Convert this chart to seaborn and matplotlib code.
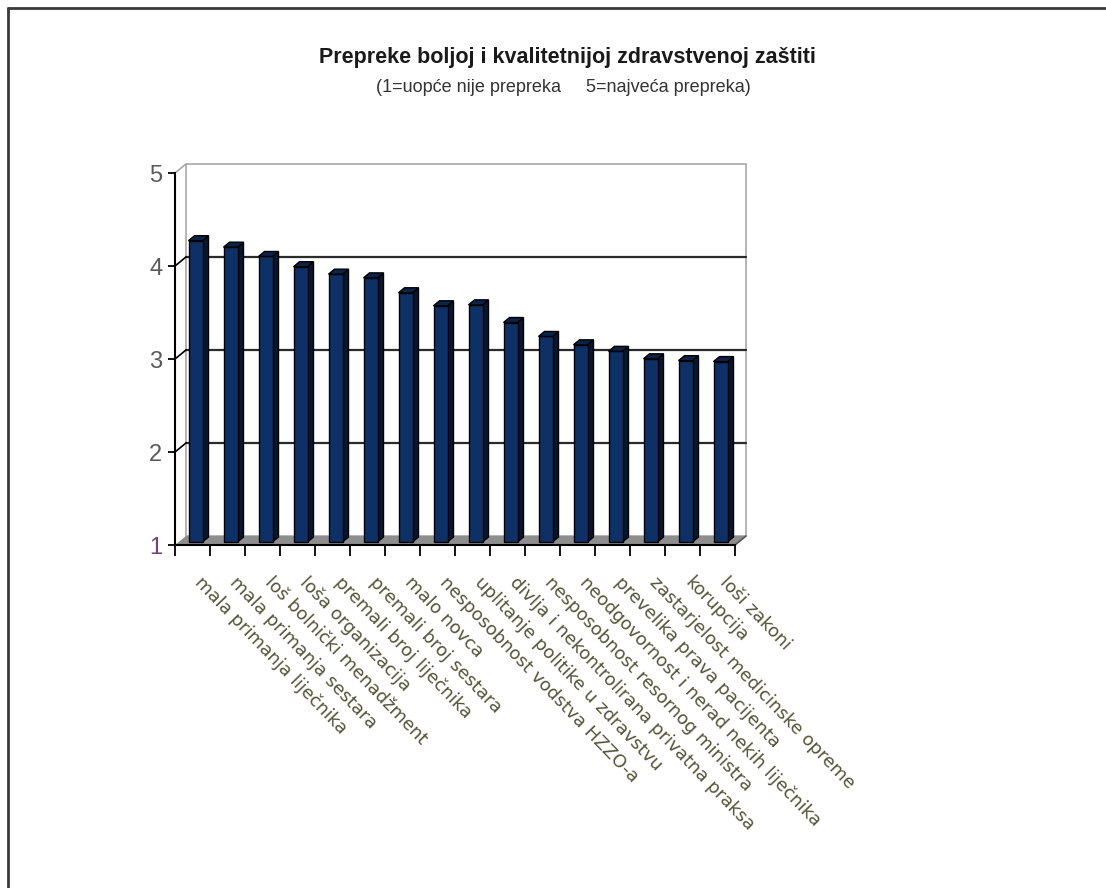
import matplotlib
matplotlib.use("Agg")
import matplotlib.pyplot as plt
import matplotlib.transforms as mtransforms
from matplotlib.patches import Polygon
from matplotlib.lines import Line2D
from matplotlib import font_manager
import seaborn as sns
import pandas as pd
import numpy as np

# ---- data -------------------------------------------------------------
categories = [
    "mala primanja liječnika",
    "mala primanja sestara",
    "loš bolnički menadžment",
    "loša organizacija",
    "premali broj liječnika",
    "premali broj sestara",
    "malo novca",
    "nesposobnost vodstva HZZO-a",
    "uplitanje politike u zdravstvu",
    "divlja i nekontrolirana privatna praksa",
    "nesposobnost resornog ministra",
    "neodgovornost i nerad nekih liječnika",
    "prevelika prava pacijenta",
    "zastarjelost medicinske opreme",
    "korupcija",
    "loši zakoni",
]
scores = [4.24, 4.17, 4.07, 3.96, 3.88, 3.84, 3.68, 3.54,
          3.55, 3.36, 3.21, 3.12, 3.05, 2.97, 2.95, 2.94]
y_ticks = [1, 2, 3, 4, 5]
y_tick_labels = ["1", "2", "3", "4", "5"]

title = "Prepreke boljoj i kvalitetnijoj zdravstvenoj zaštiti"
subtitle = "(1=uopće nije prepreka     5=najveća prepreka)"

# ---- style ------------------------------------------------------------
sns.set_theme(style="white")
plt.rcParams["font.family"] = ["Liberation Sans", "DejaVu Sans"]

installed = {f.name for f in font_manager.fontManager.ttflist}
narrow = "Liberation Sans Narrow" if "Liberation Sans Narrow" in installed else "Liberation Sans"

FRONT = "#0d3166"
SIDE = "#06172f"
TOP = "#0c2348"
FLOOR = "#8e8e8e"
WALL_EDGE = "#a8a8a8"
GRID = "#2a2a2a"

W, H = 1106, 888
fig = plt.figure(figsize=(W / 100, H / 100), dpi=100)
fig.patch.set_facecolor("white")

# front plane of the 3-D box
ax = fig.add_axes([175 / W, 1 - 545 / H, 560 / W, 372 / H])
ax.patch.set_visible(False)

df = pd.DataFrame({"prepreka": categories, "ocjena": scores})
sns.barplot(data=df, x="prepreka", y="ocjena", ax=ax, color=FRONT,
            saturation=1, width=0.40, edgecolor="black", linewidth=1.0,
            zorder=6)

n = len(categories)
ax.set_xlim(-0.5, n - 0.5)
ax.set_ylim(y_ticks[0], y_ticks[-1])

# depth of the box and of the columns (pixels)
DX, DY = 11, 9
BX, BY = 3.0, 3.0      # column front face sits a little inside the box
SX, SY = 6.0, 5.0      # column depth

bar_tr = mtransforms.offset_copy(ax.transData, fig=fig, x=BX, y=BY, units="dots")
ident = mtransforms.IdentityTransform()


def disp(x, y):
    return ax.transData.transform((x, y))


x0, x1 = -0.5, n - 0.5
ybot, ytop = y_ticks[0], y_ticks[-1]
fl, fr = disp(x0, ybot), disp(x1, ybot)
tl, tr = disp(x0, ytop), disp(x1, ytop)
off = np.array([DX, DY])

# back wall
wall = Polygon([fl + off, fr + off, tr + off, tl + off], closed=True,
               facecolor="white", edgecolor=WALL_EDGE, linewidth=1.2,
               transform=ident, clip_on=False, zorder=1)
ax.add_patch(wall)
ax.add_line(Line2D([tl[0], tl[0] + DX], [tl[1], tl[1] + DY], color=WALL_EDGE,
                   linewidth=1.2, transform=ident, clip_on=False, zorder=1))

# gridlines on the back wall and the left wall
for t in y_ticks[1:-1]:
    a, b = disp(x0, t), disp(x1, t)
    ax.add_line(Line2D([a[0] + DX, b[0] + DX], [a[1] + DY, b[1] + DY],
                       color=GRID, linewidth=1.6, transform=ident,
                       clip_on=False, zorder=2))
    ax.add_line(Line2D([a[0], a[0] + DX], [a[1], a[1] + DY], color="black",
                       linewidth=1.2, transform=ident, clip_on=False, zorder=2))

# floor
floor = Polygon([fl, fr, fr + off, fl + off], closed=True, facecolor=FLOOR,
                edgecolor="none", transform=ident, clip_on=False, zorder=3)
ax.add_patch(floor)
ax.add_line(Line2D([fr[0], fr[0] + DX], [fr[1], fr[1] + DY], color="#555555",
                   linewidth=1.2, transform=ident, clip_on=False, zorder=3))

# columns: start them on the floor, shift inside the box, add side and top
front_rgb = matplotlib.colors.to_rgb(FRONT)
bars = [p for p in ax.patches if tuple(p.get_facecolor()[:3]) == front_rgb]
s = np.array([SX, SY])
for patch, v in zip(bars, scores):
    patch.set_y(ybot)
    patch.set_height(v - ybot)
    patch.set_transform(bar_tr)
    patch.set_clip_on(False)
    xl = patch.get_x()
    xr = xl + patch.get_width()
    p_br = bar_tr.transform((xr, ybot))
    p_tr = bar_tr.transform((xr, v))
    p_tl = bar_tr.transform((xl, v))
    side = Polygon([p_br, p_tr, p_tr + s, p_br + s], closed=True,
                   facecolor=SIDE, edgecolor="black", linewidth=1.0,
                   transform=ident, clip_on=False, zorder=5)
    top = Polygon([p_tl, p_tr, p_tr + s, p_tl + s], closed=True,
                  facecolor=TOP, edgecolor="black", linewidth=1.0,
                  transform=ident, clip_on=False, zorder=7)
    ax.add_patch(side)
    ax.add_patch(top)

# axes, ticks
for sp in ("top", "right"):
    ax.spines[sp].set_visible(False)
for sp in ("left", "bottom"):
    ax.spines[sp].set_color("black")
    ax.spines[sp].set_linewidth(1.5)
    ax.spines[sp].set_zorder(8)

ax.set_yticks(y_ticks)
ax.set_yticklabels(y_tick_labels)
ax.tick_params(axis="y", left=True, length=5, width=1.3, color="black",
               labelsize=17, labelcolor="#5a5a5a", pad=4)
ax.get_yticklabels()[0].set_color("#7b3d85")

ax.set_xticks(np.arange(n))
ax.set_xticklabels([])
ax.set_xticks(np.arange(-0.5, n, 1.0), minor=True)
ax.tick_params(axis="x", which="major", length=0)
ax.tick_params(axis="x", which="minor", bottom=True, length=8, width=1.3,
               color="black", direction="out")
ax.set_xlabel("")
ax.set_ylabel("")

label_tr = mtransforms.offset_copy(ax.get_xaxis_transform(), fig=fig,
                                   x=5, y=-35, units="dots")
for i, lab in enumerate(categories):
    ax.text(i, 0, lab, transform=label_tr, rotation=-46,
            rotation_mode="anchor", ha="left", va="center",
            fontsize=13, color="#55553a", family=["DejaVu Sans"])

# titles
fig.text(567 / W, 1 - 58 / H, title, ha="center", va="center",
         fontsize=15.5, fontweight="bold", color="#1a1a1a",
         family=[narrow, "DejaVu Sans"])
fig.text(563 / W, 1 - 88 / H, subtitle, ha="center", va="center",
         fontsize=13, color="#333333", family=[narrow, "DejaVu Sans"])

# outer frame
fig.add_artist(Line2D([8 / W, 8 / W], [0, 1 - 8 / H], color="#3a3a3a",
                      linewidth=2, transform=fig.transFigure))
fig.add_artist(Line2D([8 / W, 1], [1 - 8 / H, 1 - 8 / H], color="#3a3a3a",
                      linewidth=2, transform=fig.transFigure))

fig.savefig("out.png", dpi=100, facecolor="white")
